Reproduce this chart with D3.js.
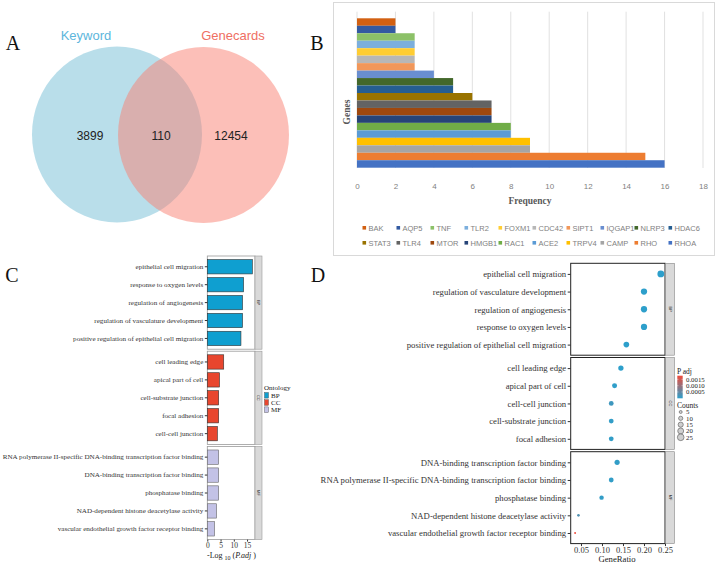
<!DOCTYPE html>
<html>
<head>
<meta charset="utf-8">
<script src="https://d3js.org/d3.v7.min.js"></script>
<style>
  body { margin: 0; background: #fff; }
</style>
</head>
<body>
<div id="fig"></div>
<script>
// ---- data ----
const vennLabels = ["Keyword", "Genecards"];
const vennCounts = [3899, 110, 12454]; // keyword only, shared, genecards only

const genes = ["BAK", "AQP5", "TNF", "TLR2", "FOXM1", "CDC42", "SIPT1", "IQGAP1", "NLRP3", "HDAC6",
               "STAT3", "TLR4", "MTOR", "HMGB1", "RAC1", "ACE2", "TRPV4", "CAMP", "RHO", "RHOA"];
const geneFreq = [2, 2, 3, 3, 3, 3, 3, 4, 5, 5, 6, 7, 7, 7, 8, 8, 9, 9, 15, 16];

const ontologies = ["BP", "CC", "MF"];

// panel C: enrichment bars
const goTerms = [
  "epithelial cell migration", "response to oxygen levels", "regulation of angiogenesis",
  "regulation of vasculature development", "positive regulation of epithelial cell migration",
  "cell leading edge", "apical part of cell", "cell-substrate junction", "focal adhesion", "cell-cell junction",
  "RNA polymerase II-specific DNA-binding transcription factor binding", "DNA-binding transcription factor binding",
  "phosphatase binding", "NAD-dependent histone deacetylase activity", "vascular endothelial growth factor receptor binding"
];
const goOntology = ["BP", "BP", "BP", "BP", "BP", "CC", "CC", "CC", "CC", "CC", "MF", "MF", "MF", "MF", "MF"];
const goLogP = [17.0, 13.7, 13.3, 13.3, 12.7, 6.2, 4.6, 4.3, 4.3, 3.8, 4.3, 4.3, 4.3, 3.5, 2.75];

// panel D: dot plot
const dotTerms = [
  "epithelial cell migration", "regulation of vasculature development", "regulation of angiogenesis",
  "response to oxygen levels", "positive regulation of epithelial cell migration",
  "cell leading edge", "apical part of cell", "cell-cell junction", "cell-substrate junction", "focal adhesion",
  "DNA-binding transcription factor binding", "RNA polymerase II-specific DNA-binding transcription factor binding",
  "phosphatase binding", "NAD-dependent histone deacetylase activity", "vascular endothelial growth factor receptor binding"
];
const dotOntology = goOntology;
const dotRatio = [0.24, 0.20, 0.20, 0.20, 0.158, 0.145, 0.13, 0.122, 0.122, 0.122, 0.136, 0.122, 0.099, 0.044, 0.036];
const dotCount = [26, 22, 22, 22, 18, 16, 14, 13, 13, 13, 15, 13, 11, 4, 2];
const dotPadj = [1e-17, 2e-14, 5e-14, 5e-14, 2e-13, 6e-7, 2.5e-5, 1.6e-4, 5e-5, 5e-5, 5e-5, 5e-5, 5e-5, 3.2e-4, 1.79e-3];

const countKeys = [5, 10, 15, 20, 25];
const padjTicks = [0.0005, 0.0010, 0.0015];

// excel default series colours, bottom bar first
const excelPalette = ["#4472C4", "#ED7D31", "#A5A5A5", "#FFC000", "#5B9BD5", "#70AD47", "#264478", "#9E480E",
                      "#636363", "#997300", "#255E91", "#43682B", "#698ED0", "#F1975A", "#B7B7B7", "#FFCD33",
                      "#7CAFDD", "#8CC168", "#335AA1", "#D26012"];
const ontoColor = { BP: "#0f9fd0", CC: "#e8462e", MF: "#c3c2e6" };

const W = 719, H = 563;
const serif = '"Liberation Serif", "DejaVu Serif", serif';
const sans = '"Liberation Sans", Arial, sans-serif';

const svg = d3.select("#fig").append("svg")
    .attr("width", W)
    .attr("height", H)
    .style("background", "#fff");

// panel letters
[["A", 13, 50], ["B", 317, 50], ["C", 12, 282], ["D", 318, 282]].forEach(([t, x, y]) => {
    svg.append("text").attr("x", x).attr("y", y).attr("text-anchor", "middle")
        .attr("font-family", serif).attr("font-size", 20).attr("fill", "#111").text(t);
});

// ---------- A: venn ----------
const gA = svg.append("g");
gA.append("ellipse").attr("cx", 117).attr("cy", 134.5).attr("rx", 85).attr("ry", 88)
    .attr("fill", "#add8e6").attr("fill-opacity", 0.85);
gA.append("ellipse").attr("cx", 203.5).attr("cy", 135).attr("rx", 85.5).attr("ry", 88)
    .attr("fill", "#fa8072").attr("fill-opacity", 0.5);
gA.append("text").attr("x", 86).attr("y", 40).attr("text-anchor", "middle")
    .attr("font-family", sans).attr("font-size", 13).attr("fill", "#5cb6dc").text(vennLabels[0]);
gA.append("text").attr("x", 233).attr("y", 40).attr("text-anchor", "middle")
    .attr("font-family", sans).attr("font-size", 13).attr("fill", "#ef6f63").text(vennLabels[1]);
[90, 161, 231].forEach((x, i) => {
    gA.append("text").attr("x", x).attr("y", 139.5).attr("text-anchor", "middle")
        .attr("font-family", sans).attr("font-size", 12).attr("fill", "#222").text(vennCounts[i]);
});

// ---------- B: gene frequency bars ----------
const gB = svg.append("g");
gB.append("rect").attr("x", 333.5).attr("y", 2.5).attr("width", 381).attr("height", 253)
    .attr("fill", "none").attr("stroke", "#d9d9d9");

const bX = d3.scaleLinear().domain([0, 18]).range([357, 703]);
const bY = d3.scaleBand().domain(genes).range([18.3, 167.7]).padding(0);

gB.selectAll("line.grid").data(bX.ticks(9)).enter().append("line")
    .attr("class", "grid")
    .attr("x1", d => bX(d)).attr("x2", d => bX(d))
    .attr("y1", 11.7).attr("y2", 168)
    .attr("stroke", "#d9d9d9").attr("stroke-width", 0.8);

gB.selectAll("rect.bar").data(genes).enter().append("rect")
    .attr("class", "bar")
    .attr("x", bX(0))
    .attr("y", d => bY(d))
    .attr("width", (d, i) => bX(geneFreq[i]) - bX(0))
    .attr("height", bY.bandwidth())
    .attr("fill", (d, i) => excelPalette[genes.length - 1 - i]);

const bAxis = gB.append("g").attr("transform", "translate(0,183)")
    .call(d3.axisBottom(bX).tickValues(d3.range(0, 19, 2)).tickSize(0).tickPadding(0));
bAxis.select(".domain").remove();
bAxis.selectAll("text").attr("font-family", sans).attr("font-size", 8).attr("fill", "#7f7f7f");

gB.append("text").attr("x", 530).attr("y", 204).attr("text-anchor", "middle")
    .attr("font-family", serif).attr("font-weight", "bold").attr("font-size", 9.5).attr("fill", "#595959")
    .text("Frequency");
gB.append("text").attr("transform", "translate(350,112) rotate(-90)").attr("text-anchor", "middle")
    .attr("font-family", serif).attr("font-weight", "bold").attr("font-size", 9.5).attr("fill", "#595959")
    .text("Genes");

// legend, two rows of ten
genes.forEach((g, i) => {
    const col = i % 10, row = Math.floor(i / 10);
    const x = 364 + col * 34, y = 228 + row * 15;
    gB.append("rect").attr("x", x - 1.5).attr("y", y - 2).attr("width", 3.6).attr("height", 3.6)
        .attr("fill", excelPalette[genes.length - 1 - i]);
    gB.append("text").attr("x", x + 4.5).attr("y", y + 2.6)
        .attr("font-family", sans).attr("font-size", 7.5).attr("fill", "#7f7f7f").text(g);
});

// ---------- shared facet helper ----------
function facetRows(top, panelH, gap) {
    return ontologies.map((o, i) => {
        const y0 = top + i * (panelH + gap);
        return { onto: o, y0: y0, y1: y0 + panelH };
    });
}

function strip(g, x, w, p, stroke) {
    g.append("rect").attr("x", x).attr("y", p.y0).attr("width", w).attr("height", p.y1 - p.y0)
        .attr("fill", "#d9d9d9").attr("stroke", stroke).attr("stroke-width", 0.6);
    g.append("text")
        .attr("transform", `translate(${x + w / 2 - 1.3},${(p.y0 + p.y1) / 2}) rotate(90)`)
        .attr("text-anchor", "middle").attr("font-family", sans).attr("font-size", 4).attr("fill", "#333")
        .text(p.onto);
}

// ---------- C: -log10 p.adj bars ----------
const gC = svg.append("g");
const cX = d3.scaleLinear().domain([0, 18]).range([207.3, 255]);
const cPanels = facetRows(256, 93.2, 2);

cPanels.forEach(p => {
    const idx = d3.range(goTerms.length).filter(i => goOntology[i] === p.onto);
    const y = d3.scaleBand().domain(idx.map(i => goTerms[i])).range([p.y0, p.y1])
        .paddingInner(0.2).paddingOuter(0.2);

    gC.append("rect").attr("x", cX.range()[0]).attr("y", p.y0)
        .attr("width", cX.range()[1] - cX.range()[0]).attr("height", p.y1 - p.y0)
        .attr("fill", "#fff").attr("stroke", "#9a9a9a").attr("stroke-width", 0.8);

    gC.selectAll(null).data(idx).enter().append("rect")
        .attr("x", cX(0))
        .attr("y", i => y(goTerms[i]))
        .attr("width", i => cX(goLogP[i]) - cX(0))
        .attr("height", y.bandwidth())
        .attr("fill", ontoColor[p.onto])
        .attr("stroke", p.onto === "MF" ? "#666" : "#333")
        .attr("stroke-width", 0.6);

    const ax = gC.append("g").attr("transform", `translate(${cX(0)},0)`)
        .call(d3.axisLeft(y).tickSize(2.5).tickPadding(1.5));
    ax.select(".domain").remove();
    ax.selectAll("line").attr("stroke", "#333");
    ax.selectAll("text").attr("font-family", serif).attr("font-size", 7.1).attr("fill", "#333");

    strip(gC, 255, 7, p, "#9a9a9a");
});

const cAxis = gC.append("g").attr("transform", `translate(0,${cPanels[2].y1})`)
    .call(d3.axisBottom(cX).tickValues([0, 5, 10, 15]).tickSize(2).tickPadding(1));
cAxis.select(".domain").remove();
cAxis.selectAll("line").attr("stroke", "#333");
cAxis.selectAll("text").attr("font-family", serif).attr("font-size", 7.5).attr("fill", "#333");

const cTitle = gC.append("text").attr("x", 207).attr("y", 558)
    .attr("font-family", serif).attr("font-size", 8).attr("fill", "#222");
cTitle.append("tspan").text("-Log ");
cTitle.append("tspan").attr("font-size", 6).attr("dy", 2).text("10");
cTitle.append("tspan").attr("dy", -2).text(" (");
cTitle.append("tspan").attr("font-style", "italic").text("P.adj");
cTitle.append("tspan").text(" )");

// ontology legend
gC.append("text").attr("x", 264).attr("y", 389.5)
    .attr("font-family", serif).attr("font-size", 7).attr("fill", "#222").text("Ontology");
ontologies.forEach((o, i) => {
    const y = 395.5 + i * 7.2;
    gC.append("rect").attr("x", 264.5).attr("y", y - 3).attr("width", 4).attr("height", 5.6)
        .attr("fill", ontoColor[o]).attr("stroke", "#444").attr("stroke-width", 0.4);
    gC.append("text").attr("x", 271).attr("y", y + 2)
        .attr("font-family", serif).attr("font-size", 7).attr("fill", "#222").text(o);
});

// ---------- D: gene ratio dot plot ----------
const gD = svg.append("g");
const dX = d3.scaleLinear().domain([0.0255, 0.25]).range([570.7, 665]);
const dR = d3.scaleSqrt().domain([0, 26]).range([0, 3.4]);
const dColor = d3.scaleLinear().domain([0, 0.00179]).range(["#2d9fcb", "#ee4a3a"]).interpolate(d3.interpolateRgb);
const dPanels = facetRows(263.3, 91.9, 2.3);

dPanels.forEach(p => {
    const idx = d3.range(dotTerms.length).filter(i => dotOntology[i] === p.onto);
    const y = d3.scalePoint().domain(idx.map(i => dotTerms[i])).range([p.y0, p.y1]).padding(0.6);

    gD.append("rect").attr("x", dX.range()[0]).attr("y", p.y0)
        .attr("width", dX.range()[1] - dX.range()[0]).attr("height", p.y1 - p.y0)
        .attr("fill", "#fff").attr("stroke", "#222").attr("stroke-width", 1);

    gD.selectAll(null).data(idx).enter().append("circle")
        .attr("cx", i => dX(dotRatio[i]))
        .attr("cy", i => y(dotTerms[i]))
        .attr("r", i => dR(dotCount[i]))
        .attr("fill", i => dColor(dotPadj[i]));

    const ax = gD.append("g").attr("transform", `translate(${dX.range()[0]},0)`)
        .call(d3.axisLeft(y).tickSize(3).tickPadding(1.5));
    ax.select(".domain").remove();
    ax.selectAll("line").attr("stroke", "#333");
    ax.selectAll("text").attr("font-family", serif).attr("font-size", 8.7).attr("fill", "#333");

    strip(gD, 665.5, 9, p, "#888");
});

const dAxis = gD.append("g").attr("transform", `translate(0,${dPanels[2].y1})`)
    .call(d3.axisBottom(dX).tickValues([0.05, 0.10, 0.15, 0.20, 0.25]).tickFormat(d3.format(".2f"))
        .tickSize(2.5).tickPadding(1));
dAxis.select(".domain").remove();
dAxis.selectAll("line").attr("stroke", "#333");
dAxis.selectAll("text").attr("font-family", serif).attr("font-size", 8.5).attr("fill", "#333");

gD.append("text").attr("x", 617).attr("y", 562).attr("text-anchor", "middle")
    .attr("font-family", serif).attr("font-size", 8.7).attr("fill", "#222").text("GeneRatio");

// P adj colour bar
const grad = svg.append("defs").append("linearGradient").attr("id", "padj")
    .attr("x1", 0).attr("y1", 1).attr("x2", 0).attr("y2", 0);
d3.range(0, 1.01, 0.1).forEach(t => {
    grad.append("stop").attr("offset", t).attr("stop-color", dColor(t * dColor.domain()[1]));
});
const pY = d3.scaleLinear().domain([0, 0.00179]).range([398.3, 375.7]);
gD.append("text").attr("x", 677).attr("y", 373.5)
    .attr("font-family", serif).attr("font-size", 7.5).attr("fill", "#222").text("P adj");
gD.append("rect").attr("x", 677.3).attr("y", pY(0.00179)).attr("width", 5.4)
    .attr("height", pY(0) - pY(0.00179)).attr("fill", "url(#padj)");
padjTicks.forEach(v => {
    gD.append("line").attr("x1", 677.3).attr("x2", 678.4).attr("y1", pY(v)).attr("y2", pY(v))
        .attr("stroke", "#fff").attr("stroke-width", 0.5);
    gD.append("line").attr("x1", 681.6).attr("x2", 682.7).attr("y1", pY(v)).attr("y2", pY(v))
        .attr("stroke", "#fff").attr("stroke-width", 0.5);
    gD.append("text").attr("x", 686).attr("y", pY(v) + 2.4)
        .attr("font-family", serif).attr("font-size", 6.8).attr("fill", "#222").text(d3.format(".4f")(v));
});

// counts legend
const cntY = d3.scalePoint().domain(countKeys).range([412, 437.3]);
gD.append("text").attr("x", 677).attr("y", 407.5)
    .attr("font-family", serif).attr("font-size", 7.5).attr("fill", "#222").text("Counts");
countKeys.forEach(c => {
    gD.append("circle").attr("cx", 680.7).attr("cy", cntY(c)).attr("r", dR(c))
        .attr("fill", "#cfcfcf").attr("stroke", "#555").attr("stroke-width", 0.6);
    gD.append("text").attr("x", 686).attr("y", cntY(c) + 2.4)
        .attr("font-family", serif).attr("font-size", 6.8).attr("fill", "#222").text(c);
});
</script>
</body>
</html>
